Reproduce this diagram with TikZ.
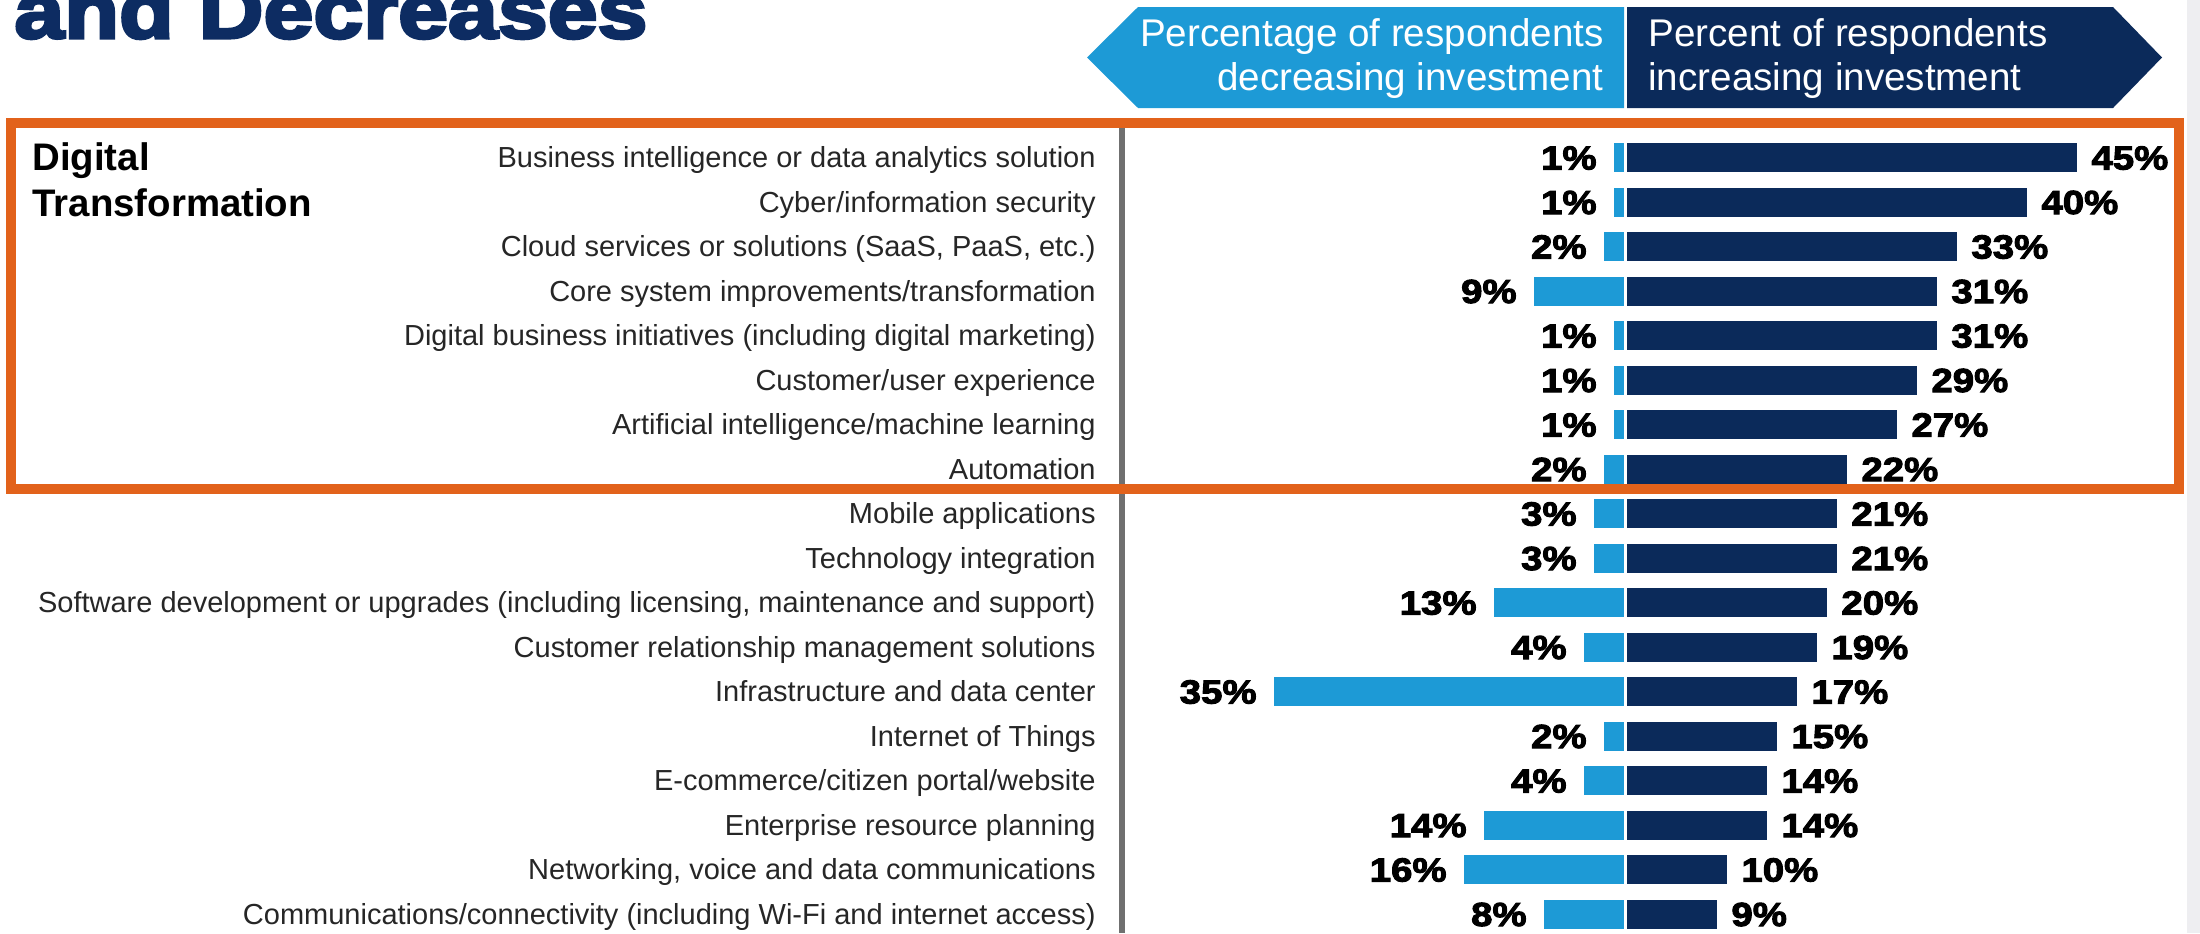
\documentclass[tikz,border=0pt]{standalone}
\usepackage{fontspec}
\setmainfont{Liberation Sans}
\newfontfamily\titlefont[FakeStretch=1.15,FakeBold=4]{Liberation Sans}
\newfontfamily\pctfont[FakeStretch=1.15,FakeBold=3]{Liberation Sans}
\definecolor{navy}{HTML}{0B2A5A}
\definecolor{titlenavy}{HTML}{0D2C62}
\definecolor{lblue}{HTML}{1D9AD6}
\definecolor{boxorange}{HTML}{E2621B}
\definecolor{labgray}{HTML}{262626}
\definecolor{axisgray}{HTML}{707070}
\definecolor{bandgray}{HTML}{EEEEF1}
\newcommand\barrow[4]{%
  \pgfmathsetmacro\yc{157.5+(#1-1)*44.5}%
  \node[rowlab, anchor=base east] (lab#1) at (1096,\yc+10) {#2};
  \fill[lblue] (1624-10*#3,\yc-14.5) rectangle (1624,\yc+14.5);
  \fill[navy] (1627,\yc-14.5) rectangle (1627+10*#4,\yc+14.5);
  \node[pctlab, anchor=base east] (dec#1) at (1624-10*#3-17,\yc+12) {#3\%};
  \node[pctlab, anchor=base west] (inc#1) at (1627+10*#4+14,\yc+12) {#4\%};
}
\begin{document}
\begin{tikzpicture}[x=0.5pt,y=-0.5pt,
  rowlab/.style={inner sep=0pt, text=labgray, font=\fontsize{14.5pt}{17pt}\selectfont},
  pctlab/.style={inner sep=0pt, text=black, font=\pctfont\bfseries\fontsize{16.7pt}{19pt}\selectfont},
  hdr/.style={inner sep=0pt, text=white, font=\fontsize{19.3pt}{22pt}\selectfont},
  grouplab/.style={inner sep=0pt, text=black, font=\bfseries\fontsize{19.2pt}{22pt}\selectfont}]
\useasboundingbox (0,0) rectangle (2200,933);
\clip (0,0) rectangle (2200,933);
\fill[white] (0,0) rectangle (2200,933);
\fill[bandgray] (2187,0) rectangle (2200,933);
% title
\node[inner sep=0pt, anchor=base west, text=titlenavy, font=\titlefont\bfseries\fontsize{39pt}{44pt}\selectfont] (title) at (14,38) {and Decreases};
% header arrows
\fill[lblue] (1624,7) -- (1138,7) -- (1087,57.5) -- (1138,108) -- (1624,108) -- cycle;
\fill[navy] (1627,7) -- (2113,7) -- (2162,57.5) -- (2113,108) -- (1627,108) -- cycle;
\node[hdr, anchor=base east] (hl1) at (1604,46) {Percentage of respondents};
\node[hdr, anchor=base east] (hl2) at (1604,90) {decreasing investment};
\node[hdr, anchor=base west] (hr1) at (1648,46) {Percent of respondents};
\node[hdr, anchor=base west] (hr2) at (1648,90) {increasing investment};
% axis line
\draw[axisgray, line width=3] (1122,123) -- (1122,933);
% rows
\barrow{1}{Business intelligence or data analytics solution}{1}{45}
\barrow{2}{Cyber/information security}{1}{40}
\barrow{3}{Cloud services or solutions (SaaS, PaaS, etc.)}{2}{33}
\barrow{4}{Core system improvements/transformation}{9}{31}
\barrow{5}{Digital business initiatives (including digital marketing)}{1}{31}
\barrow{6}{Customer/user experience}{1}{29}
\barrow{7}{Artificial intelligence/machine learning}{1}{27}
\barrow{8}{Automation}{2}{22}
\barrow{9}{Mobile applications}{3}{21}
\barrow{10}{Technology integration}{3}{21}
\barrow{11}{Software development or upgrades (including licensing, maintenance and support)}{13}{20}
\barrow{12}{Customer relationship management solutions}{4}{19}
\barrow{13}{Infrastructure and data center}{35}{17}
\barrow{14}{Internet of Things}{2}{15}
\barrow{15}{E-commerce/citizen portal/website}{4}{14}
\barrow{16}{Enterprise resource planning}{14}{14}
\barrow{17}{Networking, voice and data communications}{16}{10}
\barrow{18}{Communications/connectivity (including Wi-Fi and internet access)}{8}{9}
% group label
\node[grouplab, anchor=base west] (dig) at (32,170) {Digital};
\node[grouplab, anchor=base west] (trans) at (32,216) {Transformation};
% orange box
\draw[boxorange, line width=5] (11,123) rectangle (2179,489);
\end{tikzpicture}
\end{document}
